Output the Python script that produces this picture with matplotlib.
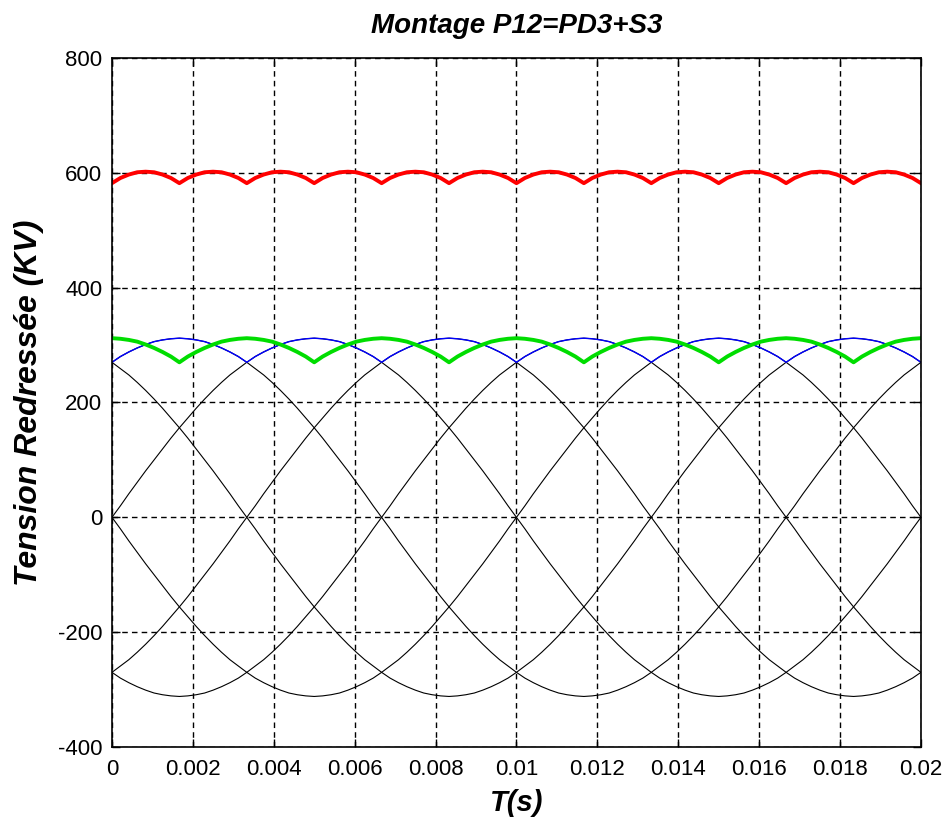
import numpy as np
import matplotlib
matplotlib.use('Agg')
import matplotlib.pyplot as plt

plt.rcParams['axes.unicode_minus'] = False

# One period of a phase voltage (V), read at 96 equal steps over 0.02 s
va_cycle = np.array([
    0, 20, 41, 61, 81, 100, 119, 138, 156, 173, 190, 206, 221, 235, 248, 259,
    270, 280, 288, 295, 301, 306, 309, 311, 312, 311, 309, 306, 301, 295, 288, 280,
    270, 259, 248, 235, 221, 206, 190, 173, 156, 138, 119, 100, 81, 61, 41, 20,
    0, -20, -41, -61, -81, -100, -119, -138, -156, -173, -190, -206, -221, -235, -248, -259,
    -270, -280, -288, -295, -301, -306, -309, -311, -312, -311, -309, -306, -301, -295, -288, -280,
    -270, -259, -248, -235, -221, -206, -190, -173, -156, -138, -119, -100, -81, -61, -41, -20,
])
t_end = 0.02
phase_shifts = [0, 16, 32, 48, 64, 80]   # 60 degree steps, in samples
s3_shift = 8                              # 30 degree shift of the star bridge

x_ticks = [0, 0.002, 0.004, 0.006, 0.008, 0.01, 0.012, 0.014, 0.016, 0.018, 0.02]
x_labels = ['0', '0.002', '0.004', '0.006', '0.008', '0.01', '0.012', '0.014', '0.016', '0.018', '0.02']
y_ticks = [-400, -200, 0, 200, 400, 600, 800]

# Build the curves
t = np.linspace(0, t_end, len(va_cycle) + 1)
phases = [np.roll(va_cycle, -s) for s in phase_shifts]
pd3_cycle = np.max(phases, axis=0)
s3_cycle = np.roll(pd3_cycle, s3_shift)
p12_cycle = pd3_cycle + s3_cycle

def closed(c):
    return np.append(c, c[0])

fig = plt.figure(figsize=(9.52, 8.31), dpi=100)
ax = fig.add_axes([0.1176, 0.1011, 0.8498, 0.8291])

for p in phases:
    ax.plot(t, closed(p), color='black', lw=0.8)
ax.plot(t, closed(pd3_cycle), color='blue', lw=1.0)
ax.plot(t, closed(s3_cycle), color='#00dd00', lw=2.8)
ax.plot(t, closed(p12_cycle), color='red', lw=2.8)

ax.set_xlim(0, t_end)
ax.set_ylim(-400, 800)
ax.set_xticks(x_ticks)
ax.set_xticklabels(x_labels)
ax.set_yticks(y_ticks)
ax.tick_params(direction='in', top=True, right=True, length=6, width=1,
               labelsize=16)
ax.tick_params(axis='x', pad=9)
ax.tick_params(axis='y', pad=7)
for lab in ax.get_xticklabels() + ax.get_yticklabels():
    lab.set_family('Liberation Sans')
ax.grid(True, color='black', linestyle=(0, (4, 3)), lw=1.0)
for sp in ax.spines.values():
    sp.set_linewidth(1.2)

ax.set_title('Montage P12=PD3+S3', fontsize=20, fontweight='bold', style='italic',
             family='Liberation Sans', pad=18)
ax.set_xlabel('T(s)', fontsize=21, fontweight='bold', style='italic',
              family='Liberation Sans', labelpad=6)
ax.set_ylabel('Tension Redressée (KV)', fontsize=23, fontweight='bold', style='italic',
              family='Liberation Sans', labelpad=10)

fig.savefig('out.png', dpi=100, facecolor='white')
